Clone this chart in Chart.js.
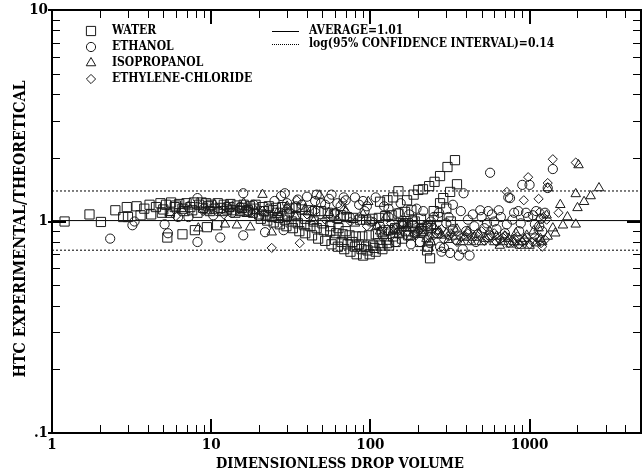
<!DOCTYPE html>
<html>
<head>
<meta charset="utf-8">
<script src="https://cdn.jsdelivr.net/npm/chart.js@4.4.1/dist/chart.umd.min.js"></script>
<style>
	html, body { margin: 0; padding: 0; background: #fff; }
	#wrap { width: 642px; height: 476px; }
</style>
</head>
<body>
<div id="wrap"><canvas id="chart__drop" width="642" height="476"></canvas></div>
<script>
// Axis setup
const xTicks = [1, 10, 100, 1000];
const xTickLabels = ["1", "10", "100", "1000"];
const yTicks = [0.1, 1, 10];
const yTickLabels = [".1", "1", "10"];
const xRange = [1, 5012];
const yRange = [0.1, 10];
const average = 1.01;
const logCI = 0.14;
const seriesNames = ["WATER", "ETHANOL", "ISOPROPANOL", "ETHYLENE-CHLORIDE"];

// Water (squares)
const water = [
	[1.2, 1.0], [1.72, 1.08], [2.03, 0.995], [2.5, 1.13], [2.8, 1.05], [2.95, 1.17], [3.0, 1.05], [3.4, 1.18],
	[3.6, 1.07], [4.1, 1.2], [4.2, 1.08], [4.8, 1.22], [4.9, 1.1], [5.2, 1.2], [5.3, 0.84], [5.5, 1.1],
	[5.6, 1.23], [5.9, 1.17], [6.3, 1.21], [6.6, 0.87], [6.8, 1.12], [7.0, 1.22], [7.4, 1.17], [7.8, 1.23],
	[7.9, 0.91], [8.2, 1.1], [8.4, 1.2], [8.9, 1.16], [9.3, 1.22], [9.4, 0.94], [9.8, 1.12], [10.9, 0.96],
	[10, 1.2], [11, 1.22], [12, 1.2], [13.2, 1.21], [14.5, 1.19], [16, 1.2], [17.5, 1.18], [19, 1.2],
	[21, 1.17], [23, 1.18], [25.5, 1.16], [28, 1.17], [31, 1.15], [34, 1.16], [37, 1.14], [41, 1.13],
	[45, 1.12], [49, 1.12], [54, 1.1], [59, 1.08], [65, 1.07], [71, 1.05], [78, 1.04], [86, 1.02],
	[94, 1.02], [103, 1.03], [113, 1.04], [124, 1.06], [136, 1.07], [150, 1.09], [165, 1.11], [181, 1.13],
	[10.5, 1.15], [11.5, 1.16], [12.6, 1.14], [13.8, 1.13], [15.2, 1.12], [16.7, 1.11], [18.3, 1.1], [20, 1.08],
	[22, 1.07], [24, 1.05], [26.5, 1.04], [29, 1.02], [32, 1.0], [35, 0.98], [38.5, 0.96], [42, 0.95],
	[46, 0.93], [51, 0.91], [56, 0.9], [61, 0.88], [67, 0.87], [74, 0.86], [81, 0.85], [89, 0.85],
	[98, 0.86], [108, 0.87], [118, 0.89], [130, 0.91], [143, 0.93], [157, 0.95], [172, 0.98], [190, 1.0],
	[208, 1.03], [20.5, 1.03], [22.5, 1.01], [24.7, 0.99], [27, 0.97], [29.7, 0.95], [32.6, 0.93], [35.8, 0.9],
	[39, 0.88], [43, 0.86], [47, 0.83], [52, 0.81], [57, 0.78], [62.5, 0.76], [68.5, 0.74], [75, 0.72],
	[82, 0.7], [90, 0.69], [99, 0.7], [108, 0.72], [119, 0.74], [131, 0.77], [144, 0.8], [158, 0.83],
	[173, 0.86], [190, 0.89], [209, 0.92], [229, 0.95], [26, 1.1], [30, 1.08], [34, 1.06], [39, 1.03],
	[44, 1.0], [50, 0.98], [56, 0.95], [63, 0.93], [70, 0.9], [77, 0.8], [85, 0.78], [94, 0.76],
	[104, 0.77], [114, 0.79], [126, 0.82], [139, 0.85], [152, 0.88], [167, 0.9], [60, 0.82], [66, 0.8],
	[72, 0.78], [80, 0.76], [88, 0.74], [96, 0.73], [106, 0.75], [116, 0.77], [128, 0.79],
	[115, 1.24], [128, 1.26], [139, 1.3], [150, 1.39], [170, 1.26], [187, 1.34], [200, 1.41], [214, 1.42],
	[234, 1.47], [253, 1.54], [274, 1.64], [305, 1.81], [340, 1.95], [274, 1.22], [287, 1.29], [317, 1.38],
	[350, 1.5], [227, 0.73], [237, 0.67], [250, 1.12], [265, 1.05], [300, 1.15], [320, 1.0], [160, 0.98],
	[185, 0.95], [215, 0.9], [240, 0.93], [260, 0.88], [205, 0.8], [230, 0.76],
	[3.8, 1.15], [4.5, 1.17], [5.0, 1.14], [6.0, 1.19], [6.6, 1.15], [7.6, 1.13], [8.7, 1.23], [9.6, 1.18],
	[11.8, 1.12], [13, 1.17], [14.2, 1.1], [15.6, 1.16], [17, 1.13], [18.7, 1.15], [21.5, 1.12], [24.5, 1.13],
];

// Ethanol (circles)
const ethanol = [
	[2.32, 0.83], [3.2, 0.96], [3.3, 1.0], [5.1, 0.97], [5.35, 0.88], [6.2, 1.05], [7.2, 1.05], [8.2, 0.8],
	[8.2, 1.29], [9, 1.15], [10.3, 1.07], [11.4, 0.84], [11, 1.12], [12.5, 1.18], [13.5, 1.1], [15.2, 1.17],
	[15.9, 1.36], [15.9, 0.86], [17, 1.12], [18.5, 1.2], [20, 1.06], [21.8, 0.89], [23, 1.15], [25, 1.25],
	[27.5, 1.32], [28.5, 0.91], [29, 1.36], [31, 1.1], [34, 1.18], [37, 1.2], [40, 1.31], [43, 1.12],
	[46, 1.34], [49, 1.22], [52, 1.2], [57, 1.34], [60, 1.1], [65, 1.18], [70, 1.26], [74, 1.05],
	[80, 1.3], [85, 1.2], [92, 1.12], [100, 1.0], [108, 1.3], [115, 0.95], [122, 1.18], [130, 1.05],
	[140, 0.92], [150, 1.1], [160, 0.98], [172, 0.86], [185, 1.02], [198, 0.9], [205, 0.8], [215, 1.12],
	[228, 0.95], [237, 0.79], [250, 1.05], [262, 0.88], [274, 0.76], [290, 0.75], [300, 0.98], [317, 0.71],
	[330, 1.2], [345, 0.82], [360, 0.69], [385, 1.36], [400, 0.9], [420, 0.69], [440, 1.08], [460, 0.8],
	[490, 1.13], [520, 0.93], [550, 1.12], [565, 1.7], [600, 1.0], [640, 1.13], [700, 0.88], [735, 1.3],
	[754, 1.29], [800, 1.1], [850, 1.12], [900, 1.49], [950, 1.1], [1000, 1.49], [1050, 1.07], [1100, 1.12],
	[1150, 0.95], [1250, 1.1], [1300, 1.44], [1400, 1.77], [120, 0.85], [145, 0.8], [180, 0.78], [560, 0.86],
	[860, 0.9], [1200, 0.9], [130, 1.15], [155, 1.22], [175, 1.08], [195, 1.15], [240, 1.0], [270, 1.1],
	[310, 1.05], [330, 0.92], [370, 1.12], [410, 1.02], [450, 0.95], [500, 1.05], [540, 0.98], [580, 1.08],
	[620, 0.92], [660, 1.05], [720, 0.97], [780, 1.02], [880, 0.98], [980, 1.05], [1080, 0.97], [1180, 1.03],
	[380, 0.74], [280, 0.72], [30, 1.22], [35, 1.27], [45, 1.25], [55, 1.28], [62, 1.22], [90, 1.25],
	[95, 1.18], [68, 1.3],
];

// Isopropanol (triangles)
const isopropanol = [
	[5.5, 1.1], [6.5, 1.15], [7.2, 1.18], [8.3, 0.93], [9.5, 1.12], [10.5, 1.2], [12.2, 0.97], [13, 1.15],
	[14.5, 0.96], [16, 1.22], [17.6, 0.94], [19, 1.12], [21, 1.34], [24, 0.89], [26, 1.1], [30, 1.18],
	[34, 1.05], [39, 1.15], [44, 1.0], [48, 1.33], [55, 1.1], [62, 1.02], [70, 1.12], [80, 0.98],
	[90, 1.08], [97, 1.24], [110, 0.95], [125, 1.05], [140, 0.9], [160, 0.98], [180, 0.85], [200, 0.92],
	[225, 0.83], [250, 0.95], [280, 0.86], [310, 0.82], [350, 0.92], [390, 0.84], [430, 0.8], [480, 0.87],
	[530, 0.83], [600, 0.8], [650, 0.77], [700, 0.85], [760, 0.78], [820, 0.88], [870, 0.77], [930, 0.83],
	[1000, 0.77], [1060, 0.9], [1140, 0.93], [1200, 0.8], [1280, 1.07], [1300, 0.85], [1300, 1.44], [1400, 0.93],
	[1450, 0.88], [1560, 1.2], [1620, 0.96], [1730, 1.05], [1950, 0.97], [1950, 1.35], [2000, 1.16], [2030, 1.85],
	[2200, 1.24], [2420, 1.32], [2730, 1.44], [115, 0.9], [150, 0.87], [170, 0.93], [210, 0.88], [240, 0.8],
	[270, 0.9], [300, 0.88], [330, 0.85], [370, 0.8], [410, 0.9], [450, 0.84], [500, 0.8], [560, 0.9],
	[620, 0.85], [680, 0.8], [740, 0.83], [800, 0.8], [900, 0.8], [960, 0.86], [1100, 0.79], [1170, 0.83],
];

// Ethylene-chloride (diamonds)
const ethyleneChloride = [
	[6.0, 1.06], [8.9, 1.12], [12, 1.08], [15, 1.14], [18, 1.1], [21, 1.12], [24, 0.75], [27, 1.05],
	[30, 1.15], [34.5, 1.26], [36, 0.79], [40, 1.08], [45, 1.12], [52, 1.02], [60, 1.1], [67, 1.24],
	[68, 1.13], [75, 1.0], [85, 1.05], [95, 0.95], [105, 1.0], [120, 0.92], [135, 0.98], [150, 0.9],
	[170, 0.95], [190, 0.87], [210, 0.93], [235, 0.85], [260, 0.9], [290, 0.82], [320, 0.88], [350, 0.8],
	[390, 0.86], [430, 0.82], [470, 0.88], [520, 0.81], [570, 0.86], [620, 0.8], [680, 0.84], [720, 1.38],
	[740, 0.79], [800, 0.83], [860, 0.78], [920, 1.26], [930, 0.82], [980, 1.62], [1000, 0.78], [1080, 0.85],
	[1140, 1.28], [1160, 1.11], [1200, 0.76], [1250, 0.82], [1300, 1.52], [1400, 1.97], [1520, 1.1], [1950, 1.9],
	[1220, 1.05], [1280, 1.02], [110, 0.95], [130, 0.9], [160, 0.98], [200, 0.9], [225, 0.96], [250, 0.86],
	[280, 0.92], [310, 0.85], [340, 0.9], [370, 0.84], [410, 0.88], [450, 0.85], [500, 0.9], [550, 0.83],
	[600, 0.88], [650, 0.82], [700, 0.86], [780, 0.8], [840, 0.85], [900, 0.8], [960, 0.84], [1050, 0.8],
	[1120, 0.83], [1180, 0.79],
];

const FONT = '"DejaVu Serif Condensed", "DejaVu Serif", serif';
const INK = "#1a1a1a";

const toXY = (pts) => pts.map(([x, y]) => ({ x, y }));

// Scatter dataset with hollow markers
const markerSet = (label, pts, style, radius) => ({
	label,
	data: toXY(pts),
	pointStyle: style,
	pointRadius: radius,
	pointHoverRadius: radius,
	pointBorderWidth: 1,
	borderColor: INK,
	backgroundColor: "rgba(0,0,0,0)",
	showLine: false,
});

// Horizontal reference line spanning the x range
const refLine = (label, yv, dash) => ({
	type: "line",
	label,
	data: [{ x: xRange[0], y: yv }, { x: xRange[1], y: yv }],
	borderColor: "#000",
	borderWidth: 1,
	borderDash: dash,
	pointRadius: 0,
	fill: false,
	tension: 0,
});

const markerStyles = [
	{ style: "rect", radius: 6.5 },
	{ style: "circle", radius: 4.6 },
	{ style: "triangle", radius: 5.5 },
	{ style: "rectRot", radius: 4.6 },
];

// Minor (2..9) and major (decade) tick values inside a log range
const tickList = (decades, hi) => {
	const out = [];
	decades.forEach((d, i) => {
		if (i > 0 && d < hi) out.push([d, true]);
		for (let m = 2; m <= 9; m++) if (d * m < hi) out.push([d * m, false]);
	});
	return out;
};

// Inside tick marks on the top and bottom edges
const xTickMarks = {
	id: "xTickMarks",
	afterDraw(chart) {
		const { ctx, chartArea: a } = chart;
		const span = Math.log10(xRange[1] / xRange[0]);
		ctx.save();
		ctx.globalCompositeOperation = "source-over";
		ctx.globalAlpha = 1;
		ctx.setLineDash([]);
		ctx.strokeStyle = "#000";
		tickList([1, 10, 100, 1000], xRange[1]).forEach(([v, major]) => {
			const px = Math.round(a.left + (a.right - a.left) * Math.log10(v / xRange[0]) / span);
			const len = major ? 14 : 8;
			ctx.lineWidth = major ? 2 : 1;
			const cx = major ? px : px + 0.5;
			ctx.beginPath();
			ctx.moveTo(cx, a.bottom);
			ctx.lineTo(cx, a.bottom - len);
			ctx.stroke();
			ctx.beginPath();
			ctx.moveTo(cx, a.top);
			ctx.lineTo(cx, a.top + len);
			ctx.stroke();
		});
		ctx.restore();
	},
};

// Frame, y ticks, labels, titles and legend
const frameDecor = {
	id: "frameDecor",
	afterDraw(chart) {
		const { ctx, chartArea: a, scales } = chart;
		const sx = scales.x;
		const sy = scales.y;
		const L = a.left, R = a.right, T = a.top, B = a.bottom;
		ctx.save();
		ctx.setLineDash([]);
		ctx.fillStyle = "#000";
		ctx.strokeStyle = "#000";

		// frame
		ctx.lineWidth = 2;
		ctx.strokeRect(L, T, R - L, B - T);
		ctx.fillRect(L - 4, B - 1, 4, 2);
		ctx.fillRect(L - 4, T - 1, 4, 2);

		// y ticks, left and right
		tickList([0.1, 1], yRange[1]).forEach(([v, major]) => {
			const py = Math.round(sy.getPixelForValue(v));
			const len = major ? 14 : 8;
			if (major) {
				ctx.fillRect(L - 4, py - 1, len + 4, 2);
				ctx.fillRect(R - len, py - 1, len, 2);
			} else {
				ctx.fillRect(L, py, len, 1);
				ctx.fillRect(R - len, py, len, 1);
			}
		});

		// tick labels
		ctx.font = `bold 15px ${FONT}`;
		ctx.textAlign = "center";
		ctx.textBaseline = "middle";
		xTicks.forEach((v, i) => ctx.fillText(xTickLabels[i], sx.getPixelForValue(v), B + 12));
		ctx.textAlign = "right";
		yTicks.forEach((v, i) => ctx.fillText(yTickLabels[i], L - 4, sy.getPixelForValue(v)));

		// axis titles
		ctx.textAlign = "center";
		ctx.font = `bold 14.5px ${FONT}`;
		ctx.fillText("DIMENSIONLESS DROP VOLUME", 340, B + 31);
		ctx.save();
		ctx.translate(21, 229);
		ctx.rotate(-Math.PI / 2);
		ctx.font = `bold 15.8px ${FONT}`;
		ctx.fillText("HTC EXPERIMENTAL/THEORETICAL", 0, 0);
		ctx.restore();

		// legend: markers
		ctx.font = `bold 12px ${FONT}`;
		ctx.textAlign = "left";
		seriesNames.forEach((name, i) => {
			const yy = 31 + i * 16;
			ctx.save();
			ctx.strokeStyle = INK;
			ctx.fillStyle = "rgba(0,0,0,0)";
			ctx.lineWidth = 1;
			Chart.helpers.drawPoint(ctx, {
				pointStyle: markerStyles[i].style,
				radius: markerStyles[i].radius,
				rotation: 0,
				borderWidth: 1,
			}, 91, yy);
			ctx.restore();
			ctx.fillText(name, 112, yy);
		});

		// legend: lines
		ctx.fillRect(272, 31, 27, 1);
		for (let lx = 272; lx < 299; lx += 2) ctx.fillRect(lx, 44, 1, 1);
		ctx.fillText(`AVERAGE=${average.toFixed(2)}`, 309, 31);
		ctx.fillText(`log(95% CONFIDENCE INTERVAL)=${logCI.toFixed(2)}`, 309, 44);

		ctx.restore();
	},
};

document.addEventListener("DOMContentLoaded", () => {
	const ctx = document.getElementById("chart__drop");
	const datasets = [
		markerSet(seriesNames[0], water, markerStyles[0].style, markerStyles[0].radius),
		markerSet(seriesNames[1], ethanol, markerStyles[1].style, markerStyles[1].radius),
		markerSet(seriesNames[2], isopropanol, markerStyles[2].style, markerStyles[2].radius),
		markerSet(seriesNames[3], ethyleneChloride, markerStyles[3].style, markerStyles[3].radius),
		refLine("average", average, []),
		refLine("ci-upper", average * Math.pow(10, logCI), [2, 2]),
		refLine("ci-lower", average / Math.pow(10, logCI), [2, 2]),
	];
	// eslint-disable-next-line no-undef
	new Chart(ctx, {
		type: "scatter",
		data: { datasets },
		options: {
			responsive: false,
			animation: false,
			devicePixelRatio: 1,
			events: [],
			layout: { autoPadding: false, padding: { left: 52, top: 10, right: 1, bottom: 43 } },
			plugins: {
				legend: { display: false },
				tooltip: { enabled: false },
			},
			scales: {
				x: { type: "logarithmic", min: xRange[0], max: xRange[1], display: false },
				y: { type: "logarithmic", min: yRange[0], max: yRange[1], display: false },
			},
		},
		plugins: [frameDecor, xTickMarks],
	});
});
</script>
</body>
</html>
